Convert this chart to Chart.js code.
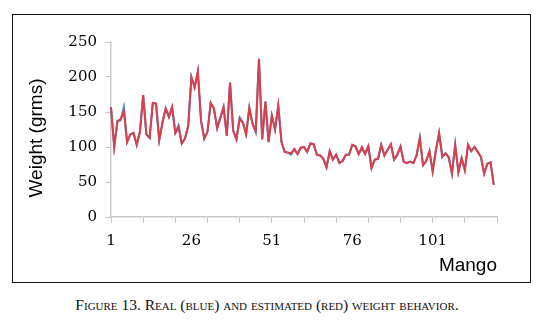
<!DOCTYPE html>
<html lang="en">
<head>
    <meta charset="UTF-8">
    <title>Figure 13 - Weight behavior</title>
    <script src="https://cdn.jsdelivr.net/npm/chart.js"></script>
    <style>
        body {
            margin: 0;
            background: #ffffff;
            width: 546px;
            height: 321px;
            position: relative;
            overflow: hidden;
        }
        #box {
            position: absolute;
            left: 12px;
            top: 14px;
            width: 519px;
            height: 269px;
            border: 1.5px solid #111;
            box-sizing: border-box;
        }
        #box canvas {
            position: absolute;
            left: 0;
            top: 0;
        }
        #caption {
            position: absolute;
            left: -6px;
            width: 546px;
            top: 296px;
            text-align: center;
            font-family: "Liberation Serif", "DejaVu Serif", serif;
            font-variant: small-caps;
            font-size: 15.5px;
            color: #111;
        }
    </style>
</head>
<body>
    <div id="box">
        <canvas id="myChart"></canvas>
    </div>
    <div id="caption">Figure 13. Real (blue) and estimated (red) weight behavior.</div>

    <script>
        // mango index on the x axis (one extra slot so the axis ends on a tick)
        const mangoIds = Array.from({length: 121}, (_, i) => String(i + 1));

        // estimated weight (red), grams
        const estimated = [
            157, 100, 137, 140, 150, 107, 118, 120, 103, 122,
            174, 118, 113, 163, 162, 110, 135, 155, 143, 157,
            120, 128, 105, 112, 130, 200, 185, 208, 137, 112,
            122, 163, 155, 127, 142, 157, 116, 192, 123, 111,
            140, 135, 118, 156, 133, 123, 226, 111, 165, 107,
            145, 125, 159, 107, 93, 92, 91, 97, 90, 99,
            100, 93, 105, 104, 89, 88, 83, 71, 94, 82,
            89, 77, 80, 89, 89, 103, 101, 90, 100, 90,
            101, 70, 82, 83, 103, 88, 96, 104, 82, 89,
            101, 79, 77, 79, 77, 88, 113, 74, 80, 94,
            65, 95, 120, 86, 91, 85, 62, 103, 64, 84,
            67, 103, 94, 100, 93, 86, 62, 76, 78, 46
        ];

        // real weight (blue), grams
        const real = [
            157, 100, 137, 138, 157, 107, 118, 120, 103, 122,
            174, 118, 113, 163, 162, 110, 135, 155, 143, 157,
            120, 131, 105, 112, 130, 200, 185, 208, 137, 112,
            122, 163, 155, 127, 142, 157, 116, 192, 123, 111,
            142, 135, 118, 156, 133, 121, 226, 111, 165, 107,
            145, 125, 159, 107, 93, 92, 89, 97, 90, 99,
            100, 93, 105, 104, 89, 88, 83, 71, 94, 82,
            89, 77, 80, 89, 89, 103, 101, 90, 98, 90,
            101, 70, 82, 83, 103, 88, 96, 104, 82, 89,
            100, 79, 77, 79, 77, 88, 113, 74, 80, 94,
            65, 95, 120, 86, 91, 85, 62, 103, 64, 84,
            67, 103, 94, 100, 93, 86, 62, 76, 78, 46
        ];

        const yTicks = [0, 50, 100, 150, 200, 250];
        const yTitle = 'Weight (grms)';
        const xTitle = 'Mango';

        const axisGrey = '#c9c9c9';

        // y title drawn by hand so it sits where the original has it
        const yTitlePlugin = {
            id: 'yTitle',
            afterDraw(chart) {
                const ctx = chart.ctx;
                const area = chart.chartArea;
                ctx.save();
                ctx.translate(area.left - 74, area.top + 96);
                ctx.rotate(-Math.PI / 2);
                ctx.font = '19px "Liberation Sans", Arial, sans-serif';
                ctx.fillStyle = '#000';
                ctx.textAlign = 'center';
                ctx.textBaseline = 'middle';
                ctx.fillText(yTitle, 0, 0);
                ctx.restore();
            }
        };

        const ctx = document.getElementById('myChart').getContext('2d');
        const myChart = new Chart(ctx, {
            type: 'line',
            data: {
                labels: mangoIds,
                datasets: [
                    {
                        label: 'Estimated',
                        data: estimated,
                        borderColor: '#d9404c',
                        borderWidth: 2,
                        pointRadius: 0,
                        tension: 0,
                        fill: false
                    },
                    {
                        label: 'Real',
                        data: real,
                        borderColor: '#4f81bd',
                        borderWidth: 2,
                        pointRadius: 0,
                        tension: 0,
                        fill: false
                    }
                ]
            },
            options: {
                responsive: true,
                maintainAspectRatio: false,
                animation: false,
                layout: {
                    padding: { left: 0, right: 33, top: 27, bottom: 0 }
                },
                plugins: {
                    legend: { display: false },
                    tooltip: { enabled: false }
                },
                scales: {
                    x: {
                        type: 'category',
                        offset: false,
                        afterFit: scale => { scale.height = 65; },
                        grid: {
                            drawOnChartArea: false,
                            drawTicks: true,
                            tickLength: 6,
                            color: c => (c.index % 10 === 0 ? axisGrey : 'rgba(0,0,0,0)')
                        },
                        border: { display: true, color: axisGrey, width: 1.5 },
                        ticks: {
                            autoSkip: false,
                            maxRotation: 0,
                            padding: 9,
                            color: '#000',
                            font: { family: '"DejaVu Serif", serif', size: 15 },
                            callback: (value, index) => (index % 25 === 0 ? mangoIds[index] : '')
                        },
                        title: {
                            display: true,
                            text: xTitle,
                            align: 'end',
                            color: '#000',
                            font: { family: '"Liberation Sans", Arial, sans-serif', size: 19 },
                            padding: { top: 0, bottom: 5 }
                        }
                    },
                    y: {
                        min: 0,
                        max: 250,
                        afterFit: scale => { scale.width = 98; },
                        afterBuildTicks: scale => { scale.ticks = yTicks.map(v => ({ value: v })); },
                        grid: {
                            drawOnChartArea: false,
                            drawTicks: true,
                            tickLength: 6,
                            color: axisGrey
                        },
                        border: { display: true, color: axisGrey, width: 1.5 },
                        ticks: {
                            padding: 8,
                            color: '#000',
                            font: { family: '"DejaVu Serif", serif', size: 15 }
                        }
                    }
                }
            },
            plugins: [yTitlePlugin]
        });
    </script>
</body>
</html>
